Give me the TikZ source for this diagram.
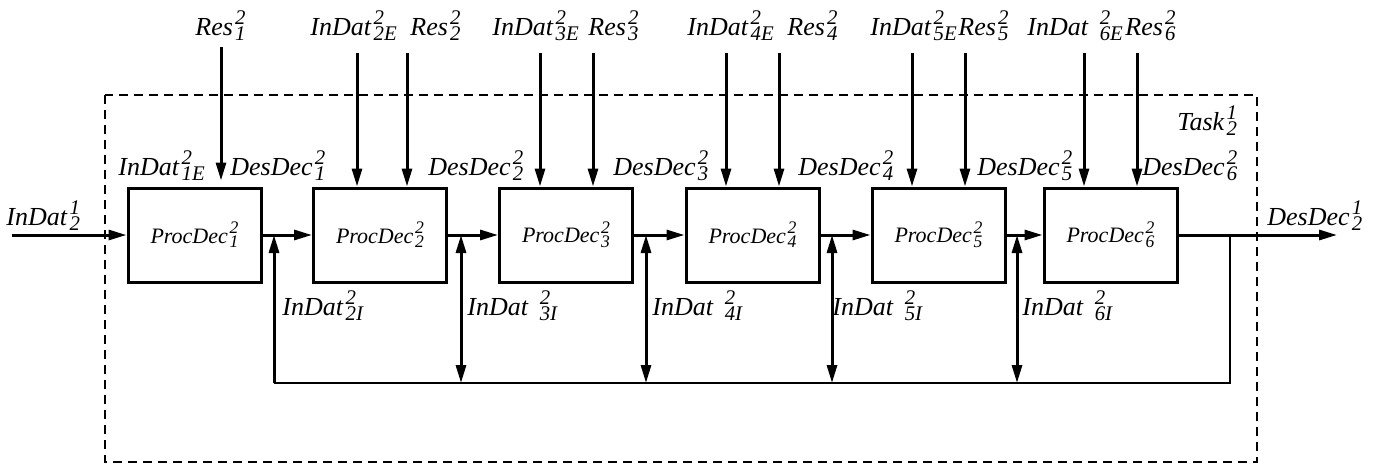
\documentclass[tikz,border=0pt]{standalone}
\usepackage{fontspec}
\setmainfont{Liberation Serif}
\usepackage{graphicx}
\usetikzlibrary{arrows.meta}

% italic name with stacked upper and lower index
\newcommand{\sdx}[3]{\textit{#1}\kern0.08em\rlap{\raisebox{0.42em}{\scalebox{0.8}{\itshape #2}}}\raisebox{-0.22em}{\scalebox{0.8}{\itshape #3}}}

\tikzset{
  proc/.style={draw, line width=1.5pt, minimum width=66.5pt, minimum height=47pt,
    inner sep=0pt, font=\fontsize{11}{13}\selectfont},
  tag/.style={inner sep=0pt, anchor=base west, font=\fontsize{13}{15}\selectfont},
  arr/.style={->, line width=1.5pt},
  dblarr/.style={<->, line width=1.5pt},
  bus/.style={line width=0.8pt},
  frame/.style={line width=1.2pt, dash pattern=on 4.5pt off 3pt}
}

\begin{document}
\begin{tikzpicture}[x=0.5pt, y=-0.5pt, >={Triangle[length=9pt,width=5pt]}]
        \useasboundingbox (0,0) rectangle (1380,466);

        % --- Khung Task ---
        \draw[frame] (105,95) rectangle (1257,462);
        \node[tag] (task) at (1177,130) {\sdx{Task}{1}{2}};

        % --- Cac khoi ProcDec ---
        \node[proc] (p1) at (194.5,235) {\sdx{ProcDec}{2}{1}};
        \node[proc] (p2) at (380,235) {\sdx{ProcDec}{2}{2}};
        \node[proc] (p3) at (566,235) {\sdx{ProcDec}{2}{3}};
        \node[proc] (p4) at (752.5,235) {\sdx{ProcDec}{2}{4}};
        \node[proc] (p5) at (938.5,235) {\sdx{ProcDec}{2}{5}};
        \node[proc] (p6) at (1110.5,235) {\sdx{ProcDec}{2}{6}};

        % --- Vao / ra ---
        \coordinate (in) at (12,235);
        \coordinate (out) at (1337,235);
        \draw[arr] (in) -- (p1.west);
        \draw[arr] (p6.east) -- (out);
        \node[tag] (lin) at (6,225) {\sdx{InDat}{1}{2}};
        \node[tag] (lout) at (1267,225) {\sdx{DesDec}{1}{2}};

        % --- Noi tiep cac khoi ---
        \draw[arr] (p1.east) -- (p2.west);
        \draw[arr] (p2.east) -- (p3.west);
        \draw[arr] (p3.east) -- (p4.west);
        \draw[arr] (p4.east) -- (p5.west);
        \draw[arr] (p5.east) -- (p6.west);

        % --- Dau vao tu tren ---
        \coordinate (r1) at (221,47);
        \coordinate (e2) at (357,53);
        \coordinate (r2) at (407,53);
        \coordinate (e3) at (540,53);
        \coordinate (r3) at (593,53);
        \coordinate (e4) at (726,53);
        \coordinate (r4) at (779,53);
        \coordinate (e5) at (912,53);
        \coordinate (r5) at (965,53);
        \coordinate (e6) at (1084,53);
        \coordinate (r6) at (1137,53);
        \draw[arr, shorten >=3pt] (r1) -- (r1 |- p1.north);
        \draw[arr] (e2) -- (e2 |- p2.north);
        \draw[arr] (r2) -- (r2 |- p2.north);
        \draw[arr] (e3) -- (e3 |- p3.north);
        \draw[arr] (r3) -- (r3 |- p3.north);
        \draw[arr] (e4) -- (e4 |- p4.north);
        \draw[arr] (r4) -- (r4 |- p4.north);
        \draw[arr] (e5) -- (e5 |- p5.north);
        \draw[arr] (r5) -- (r5 |- p5.north);
        \draw[arr] (e6) -- (e6 |- p6.north);
        \draw[arr] (r6) -- (r6 |- p6.north);

        \node[tag] (lr1) at (195,35) {\sdx{Res}{2}{1}};
        \node[tag] (le2) at (310,35) {\sdx{InDat}{2}{2E}};
        \node[tag] (lr2) at (410,35) {\sdx{Res}{2}{2}};
        \node[tag] (le3) at (492,35) {\sdx{InDat}{2}{3E}};
        \node[tag] (lr3) at (588,35) {\sdx{Res}{2}{3}};
        \node[tag] (le4) at (687,35) {\sdx{InDat}{2}{4E}};
        \node[tag] (lr4) at (787,35) {\sdx{Res}{2}{4}};
        \node[tag] (le5) at (870,35) {\sdx{InDat}{2}{5E}};
        \node[tag] (lr5) at (958,35) {\sdx{Res}{2}{5}};
        \node[tag] (le6) at (1027,35) {\sdx{InDat\hspace{0.35em}}{2}{6E}};
        \node[tag] (lr6) at (1125,35) {\sdx{Res}{2}{6}};

        % --- Nhan tren cac khoi ---
        \node[tag] (le1) at (118,175) {\sdx{InDat}{2}{1E}};
        \node[tag] (ld1) at (230,175) {\sdx{DesDec}{2}{1}};
        \node[tag] (ld2) at (428,175) {\sdx{DesDec}{2}{2}};
        \node[tag] (ld3) at (613,175) {\sdx{DesDec}{2}{3}};
        \node[tag] (ld4) at (798,175) {\sdx{DesDec}{2}{4}};
        \node[tag] (ld5) at (977,175) {\sdx{DesDec}{2}{5}};
        \node[tag] (ld6) at (1142,175) {\sdx{DesDec}{2}{6}};

        % --- Vong phan hoi ---
        \coordinate (b2) at (274,383);
        \coordinate (b3) at (461,383);
        \coordinate (b4) at (646,383);
        \coordinate (b5) at (832,383);
        \coordinate (b6) at (1017,383);
        \coordinate (br) at (1230,383);
        \draw[bus] (b2) -- (br) -- (br |- p6.east);
        \draw[arr] (b2) -- (b2 |- p1.east);
        \draw[dblarr] (b3) -- (b3 |- p2.east);
        \draw[dblarr] (b4) -- (b4 |- p3.east);
        \draw[dblarr] (b5) -- (b5 |- p4.east);
        \draw[dblarr] (b6) -- (b6 |- p5.east);

        \node[tag] (li2) at (282,315) {\sdx{InDat}{2}{2I}};
        \node[tag] (li3) at (467,315) {\sdx{InDat\hspace{0.35em}}{2}{3I}};
        \node[tag] (li4) at (652,315) {\sdx{InDat\hspace{0.35em}}{2}{4I}};
        \node[tag] (li5) at (832,315) {\sdx{InDat\hspace{0.35em}}{2}{5I}};
        \node[tag] (li6) at (1022,315) {\sdx{InDat\hspace{0.35em}}{2}{6I}};
    \end{tikzpicture}
\end{document}
